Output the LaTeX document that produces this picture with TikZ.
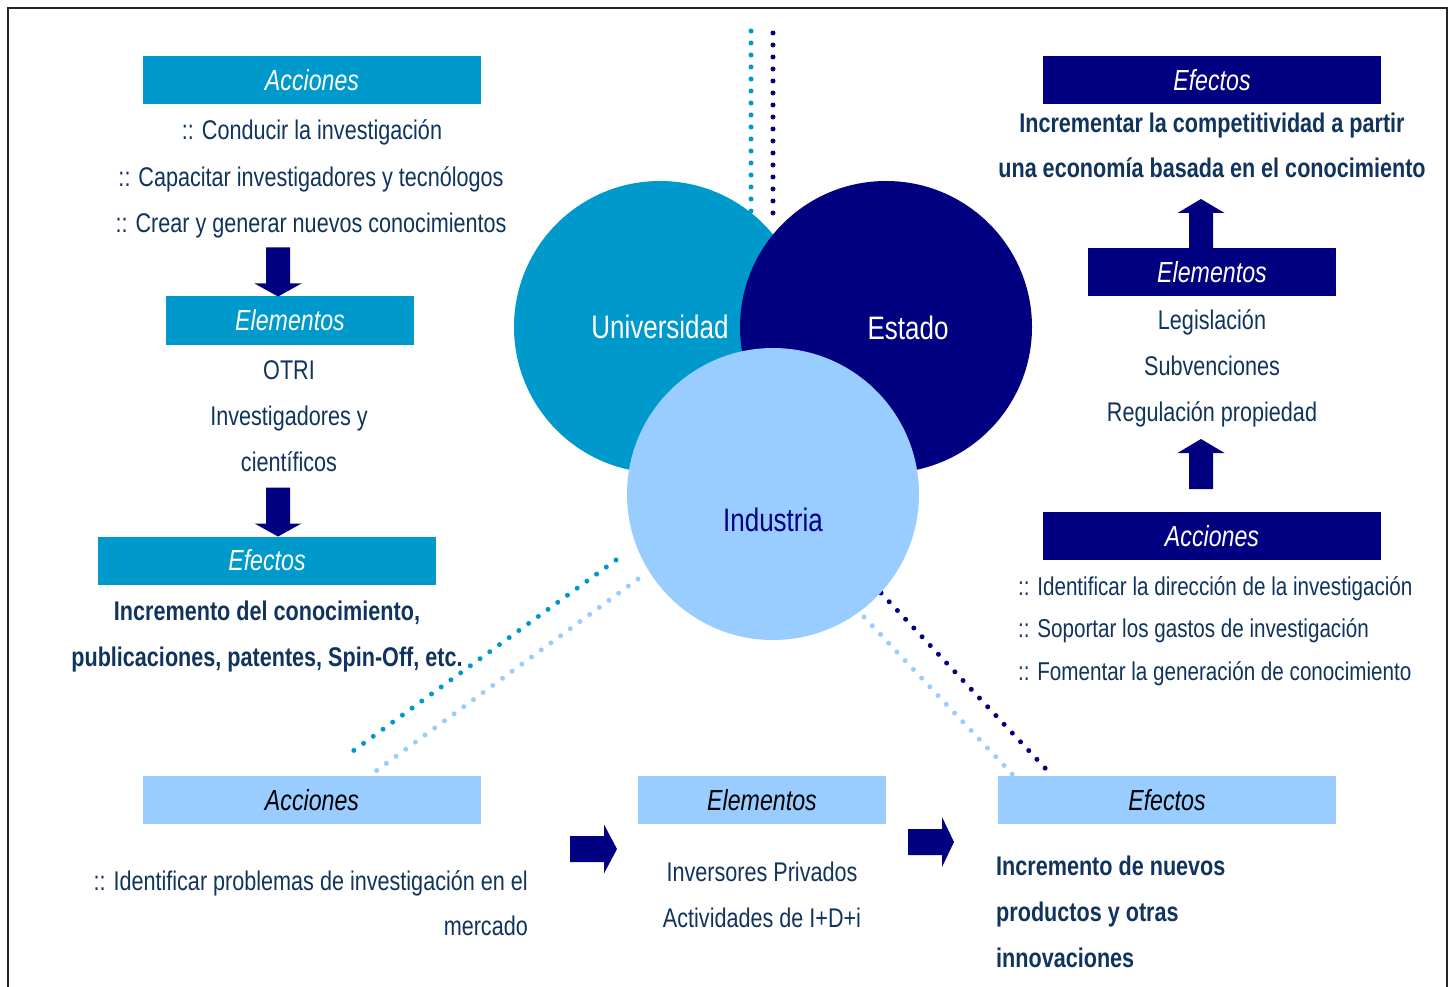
\documentclass[tikz,border=0pt]{standalone}
\usepackage{fontspec}
\setmainfont{Liberation Sans}[FakeStretch=0.8]
\usetikzlibrary{calc}

\definecolor{uniblue}{RGB}{0,153,204}
\definecolor{estnavy}{RGB}{0,0,128}
\definecolor{indsky}{RGB}{153,204,255}
\definecolor{txtblue}{RGB}{16,52,94}

\tikzset{hdr/.style={
        font=\fontsize{29}{34}\selectfont\itshape,
        text=white,
        minimum height=48pt,
        inner sep=0pt,
        outer sep=0pt},
        %
        hdrwide/.style={hdr, minimum width=338pt},
        hdrnarrow/.style={hdr, minimum width=248pt},
        item/.style={font=\fontsize{27}{32}\selectfont, text=txtblue, anchor=base, inner sep=0pt},
        itemb/.style={item, font=\fontsize{27}{32}\selectfont\bfseries},
        items/.style={item, font=\fontsize{25.8}{30}\selectfont, anchor=base west},
        ring/.style={circle, minimum size=292pt, inner sep=0pt},
        ringtext/.style={font=\fontsize{32.5}{38}\selectfont, text=white},
        dots/.style={line width=5pt, line cap=round, dash pattern=on 0pt off 12pt},
        fat/.style={fill=estnavy}
        }

\begin{document}
\begin{tikzpicture}[x=1pt,y=-1pt]
\fill[white] (0,0) rectangle (1452,987);
\useasboundingbox (0,0) rectangle (1452,987);
\draw[line width=2pt, black!85] (8,987) |- (1447,8) -- (1447,987);

% dotted guides, behind the circles
\coordinate (uTop) at (751,31);   \coordinate (uEnd) at (751,212);
\coordinate (eTop) at (773,33);   \coordinate (eEnd) at (773,215);
\coordinate (lA) at (616,560);    \coordinate (lB) at (353,751);
\coordinate (lC) at (638,579);    \coordinate (lD) at (376,771);
\coordinate (rA) at (881,593);    \coordinate (rB) at (1046,769);
\coordinate (rC) at (864,617);    \coordinate (rD) at (1013,775);
\draw[dots, uniblue] (uTop) -- (uEnd);
\draw[dots, estnavy] (eTop) -- (eEnd);
\draw[dots, uniblue] (lA) -- (lB);
\draw[dots, indsky] (lC) -- (lD);
\draw[dots, estnavy] (rA) -- (rB);
\draw[dots, indsky] (rC) -- (rD);

% the three spheres
\node[ring, fill=uniblue] (uni) at (660,327) {};
\node[ring, fill=estnavy] (est) at (886,327) {};
\node[ring, fill=indsky] (ind) at (773,494) {};
\node[ringtext] (uniL) at (uni) {Universidad};
\node[ringtext] (estL) at ($(est)+(22,1)$) {Estado};
\node[ringtext, text=estnavy] (indL) at ($(ind)+(0,26)$) {Industria};

% Universidad
\node[hdrwide, fill=uniblue] (acU) at (312,80) {Acciones};
\node[item] (uA1) at (312,140) {:: Conducir la investigación};
\node[item] (uA2) at (311,187) {:: Capacitar investigadores y tecnólogos};
\node[item] (uA3) at (311,233) {:: Crear y generar nuevos conocimientos};
\node[hdrnarrow, fill=uniblue] (elU) at (290,320.5) {Elementos};
\node[item] (uE1) at (289,379) {OTRI};
\node[item] (uE2) at (289,425) {Investigadores y};
\node[item] (uE3) at (289,471) {científicos};
\node[hdrwide, fill=uniblue] (efU) at (267,560.5) {Efectos};
\node[itemb] (uF1) at (267,620) {Incremento del conocimiento,};
\node[itemb] (uF2) at (267,666) {publicaciones, patentes, Spin-Off, etc.};

\fill[fat] ($(elU.north)+(-12,0)$) -- ++(-23.5,-13) -- ++(11.5,0) -- ++(0,-36) -- ++(24,0) -- ++(0,36) -- ++(11.5,0) -- cycle;
\fill[fat] ($(efU.north)+(11,0)$) -- ++(-23.5,-13) -- ++(11.5,0) -- ++(0,-36) -- ++(24,0) -- ++(0,36) -- ++(11.5,0) -- cycle;

% Estado
\node[hdrwide, fill=estnavy] (efE) at (1212,80) {Efectos};
\node[itemb] (eF1) at (1212,133) {Incrementar la competitividad a partir};
\node[itemb] (eF2) at (1212,178) {una economía basada en el conocimiento};
\node[hdrnarrow, fill=estnavy] (elE) at (1212,272) {Elementos};
\node[item] (eE1) at (1212,329) {Legislación};
\node[item] (eE2) at (1212,375) {Subvenciones};
\node[item] (eE3) at (1212,421) {Regulación propiedad};
\node[hdrwide, fill=estnavy] (acE) at (1212,536) {Acciones};
\node[items] (eA1) at (1018,595) {:: Identificar la dirección de la investigación};
\node[items] (eA2) at (1018,637) {:: Soportar los gastos de investigación};
\node[items] (eA3) at (1018,680) {:: Fomentar la generación de conocimiento};

\fill[fat] ($(elE.north)+(-11,-49)$) -- ++(-23.5,14) -- ++(11.5,0) -- ++(0,35) -- ++(24,0) -- ++(0,-35) -- ++(11.5,0) -- cycle;
\fill[fat] ($(acE.north)+(-11,-73)$) -- ++(-23.5,14) -- ++(11.5,0) -- ++(0,36) -- ++(24,0) -- ++(0,-36) -- ++(11.5,0) -- cycle;

% Industria
\node[hdrwide, fill=indsky, text=black] (acI) at (312,800) {Acciones};
\node[item, anchor=base east] (iA1) at (528,890) {:: Identificar problemas de investigación en el};
\node[item, anchor=base east] (iA2) at (528,935) {mercado};
\node[hdrnarrow, fill=indsky, text=black] (elI) at (762,800) {Elementos};
\node[item] (iE1) at (762,881) {Inversores Privados};
\node[item] (iE2) at (762,927) {Actividades de I+D+i};
\node[hdrwide, fill=indsky, text=black] (efI) at (1167,800) {Efectos};
\node[itemb, anchor=base west] (iF1) at (996,875) {Incremento de nuevos};
\node[itemb, anchor=base west] (iF2) at (996,921) {productos y otras};
\node[itemb, anchor=base west] (iF3) at (996,967) {innovaciones};

\fill[fat] ($(elI.west)+(-21,49)$) -- ++(-13,-24.5) -- ++(0,11.5) -- ++(-34,0) -- ++(0,26) -- ++(34,0) -- ++(0,11.5) -- cycle;
\fill[fat] ($(efI.west)+(-44,42)$) -- ++(-12,-25) -- ++(0,12) -- ++(-34,0) -- ++(0,26) -- ++(34,0) -- ++(0,12) -- cycle;
\end{tikzpicture}
\end{document}
